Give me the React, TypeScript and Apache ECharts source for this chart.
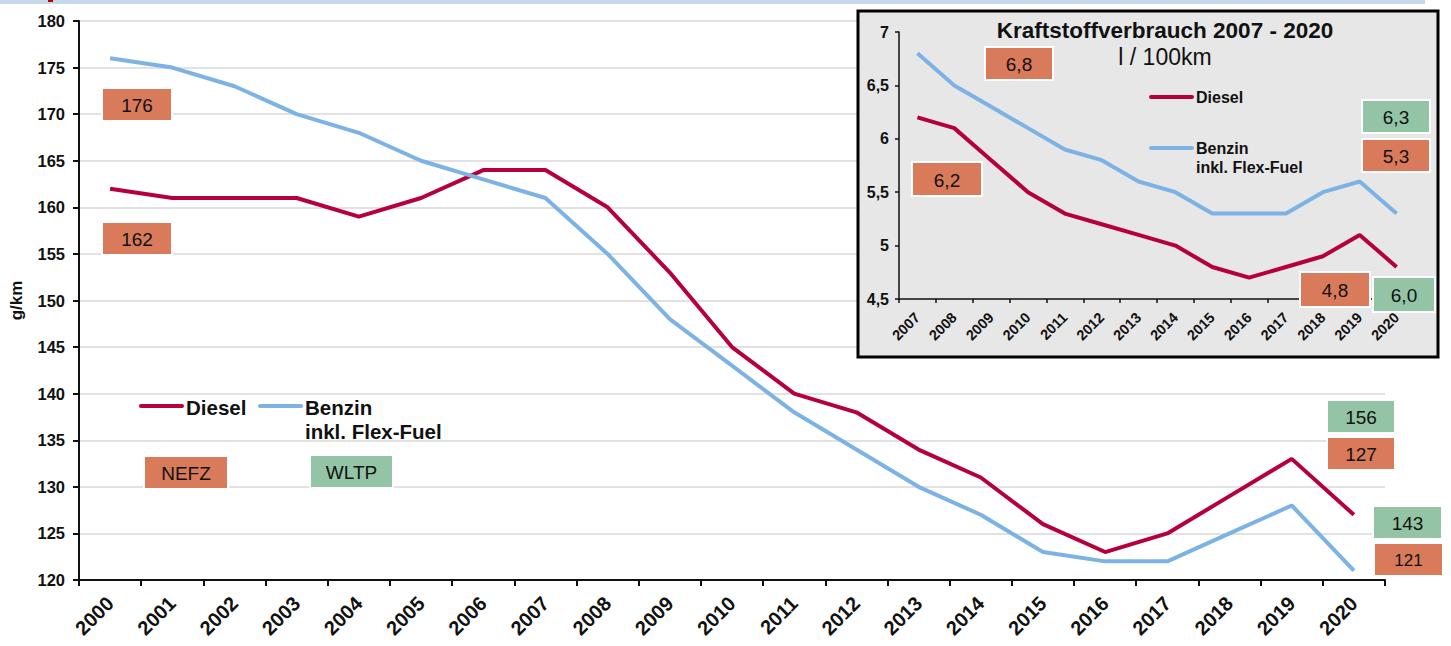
import React, { useEffect, useRef } from "react";
import * as echarts from "echarts";

const years = ["2000","2001","2002","2003","2004","2005","2006","2007","2008","2009","2010","2011","2012","2013","2014","2015","2016","2017","2018","2019","2020"];
const dieselCO2 = [162,161,161,161,159,161,164,164,160,153,145,140,138,134,131,126,123,125,129,133,127];
const benzinCO2 = [176,175,173,170,168,165,163,161,155,148,143,138,134,130,127,123,122,122,125,128,121];

const insetYears = ["2007","2008","2009","2010","2011","2012","2013","2014","2015","2016","2017","2018","2019","2020"];
const dieselL = [6.2,6.1,5.8,5.5,5.3,5.2,5.1,5.0,4.8,4.7,4.8,4.9,5.1,4.8];
const benzinL = [6.8,6.5,6.3,6.1,5.9,5.8,5.6,5.5,5.3,5.3,5.3,5.5,5.6,5.3];

const mainNefzTexts = ["176","162","127","121"];
const mainWltpTexts = ["156","143"];
const insetNefzTexts = ["6,8","6,2","5,3","4,8"];
const insetWltpTexts = ["6,3","6,0"];
const cycleTexts = ["NEFZ","WLTP"];

const DIESEL = "#b5003b";
const BENZIN = "#7db3e4";
const ORANGE = "#d97a5b";
const GREEN = "#93c4a5";
const FONT = "Liberation Sans, Arial, sans-serif";

function box(x: number, y: number, w: number, h: number, fill: string, text: string, fs = 19): any {
  return {
    type: "group",
    z: 50,
    children: [
      { type: "rect", z: 50, shape: { x, y, width: w, height: h }, style: { fill, stroke: "#ffffff", lineWidth: 2 } },
      { type: "text", z: 51, style: { x: x + w / 2, y: y + h / 2 + 1, text, fill: "#111111", font: `${fs}px ${FONT}`, align: "center", verticalAlign: "middle" } },
    ],
  };
}

export default function App() {
  const ref = useRef<HTMLDivElement>(null);
  useEffect(() => {
    document.body.style.margin = "0";
    const chart = echarts.init(ref.current!, null, { renderer: "svg" });
    const boldLbl = (fs: number) => ({ fontFamily: FONT, fontWeight: "bold" as const, fontSize: fs, color: "#111111" });
    const option: any = {
      animation: false,
      backgroundColor: "#ffffff",
      grid: [
        { left: 77, right: 66, top: 21, bottom: 66 },
        { left: 899, top: 32, width: 516, height: 267 },
      ],
      xAxis: [
        {
          type: "category", gridIndex: 0, data: years, boundaryGap: true,
          axisLine: { lineStyle: { color: "#111", width: 2 } },
          axisTick: { show: true, length: 6, lineStyle: { color: "#111", width: 2 } },
          axisLabel: { ...boldLbl(20), rotate: 45, margin: 20, interval: 0 },
          splitLine: { show: false },
        },
        {
          type: "category", gridIndex: 1, data: insetYears, boundaryGap: true, z: 10,
          axisLine: { lineStyle: { color: "#111", width: 1.5 } },
          axisTick: { show: true, length: 4, lineStyle: { color: "#111", width: 1.5 } },
          axisLabel: { ...boldLbl(14.5), rotate: 45, margin: 16, interval: 0 },
          splitLine: { show: false },
        },
      ],
      yAxis: [
        {
          type: "value", gridIndex: 0, min: 120, max: 180, interval: 5,
          name: "g/km", nameLocation: "middle", nameGap: 54, nameRotate: 90,
          nameTextStyle: boldLbl(17),
          axisLine: { show: true, lineStyle: { color: "#111", width: 2 } },
          axisTick: { show: true, length: 6, lineStyle: { color: "#111", width: 2 } },
          axisLabel: { ...boldLbl(16.5), margin: 14 },
          splitLine: { show: true, lineStyle: { color: "#d9d9d9", width: 1.5 } },
        },
        {
          type: "value", gridIndex: 1, min: 4.5, max: 7, interval: 0.5, z: 10,
          axisLine: { show: true, lineStyle: { color: "#111", width: 1.5 } },
          axisTick: { show: true, length: 4, lineStyle: { color: "#111", width: 1.5 } },
          axisLabel: { ...boldLbl(16), margin: 10, formatter: (v: number) => String(v).replace(".", ",") },
          splitLine: { show: false },
        },
      ],
      series: [
        { name: "Diesel", type: "line", xAxisIndex: 0, yAxisIndex: 0, data: dieselCO2, symbol: "none", lineStyle: { color: DIESEL, width: 4 }, itemStyle: { color: DIESEL }, z: 3 },
        { name: "Benzin inkl. Flex-Fuel", type: "line", xAxisIndex: 0, yAxisIndex: 0, data: benzinCO2, symbol: "none", lineStyle: { color: BENZIN, width: 4 }, itemStyle: { color: BENZIN }, z: 3 },
        { name: "Diesel (l/100km)", type: "line", xAxisIndex: 1, yAxisIndex: 1, data: dieselL, symbol: "none", lineStyle: { color: DIESEL, width: 4 }, itemStyle: { color: DIESEL }, z: 12 },
        { name: "Benzin (l/100km)", type: "line", xAxisIndex: 1, yAxisIndex: 1, data: benzinL, symbol: "none", lineStyle: { color: BENZIN, width: 4 }, itemStyle: { color: BENZIN }, z: 12 },
      ],
      graphic: [
        { type: "rect", z: 1, shape: { x: 0, y: 0, width: 1425, height: 4 }, style: { fill: "#c6d7ec" } },
        { type: "rect", z: 2, shape: { x: 48, y: 0, width: 5, height: 2 }, style: { fill: "#c00000" } },
        { type: "rect", z: 5, shape: { x: 858, y: 11, width: 580, height: 346 }, style: { fill: "#e7e7e7", stroke: "#000000", lineWidth: 3 } },
        { type: "text", z: 20, style: { x: 1165, y: 30, text: "Kraftstoffverbrauch 2007 - 2020", font: `bold 22.5px ${FONT}`, fill: "#111", align: "center", verticalAlign: "middle" } },
        { type: "text", z: 20, style: { x: 1165, y: 57, text: "l / 100km", font: `23px ${FONT}`, fill: "#111", align: "center", verticalAlign: "middle" } },
        // inset legend
        { type: "line", z: 20, shape: { x1: 1151, y1: 97, x2: 1192, y2: 97 }, style: { stroke: DIESEL, lineWidth: 4, lineCap: "round" } },
        { type: "text", z: 20, style: { x: 1196, y: 97, text: "Diesel", font: `bold 16px ${FONT}`, fill: "#111", verticalAlign: "middle" } },
        { type: "line", z: 20, shape: { x1: 1151, y1: 148, x2: 1192, y2: 148 }, style: { stroke: BENZIN, lineWidth: 4, lineCap: "round" } },
        { type: "text", z: 20, style: { x: 1196, y: 148, text: "Benzin", font: `bold 16px ${FONT}`, fill: "#111", verticalAlign: "middle" } },
        { type: "text", z: 20, style: { x: 1196, y: 167, text: "inkl. Flex-Fuel", font: `bold 16px ${FONT}`, fill: "#111", verticalAlign: "middle" } },
        // main legend
        { type: "line", z: 20, shape: { x1: 141, y1: 406, x2: 182, y2: 406 }, style: { stroke: DIESEL, lineWidth: 4, lineCap: "round" } },
        { type: "text", z: 20, style: { x: 186, y: 407, text: "Diesel", font: `bold 20.5px ${FONT}`, fill: "#111", verticalAlign: "middle" } },
        { type: "line", z: 20, shape: { x1: 260, y1: 406, x2: 301, y2: 406 }, style: { stroke: BENZIN, lineWidth: 4, lineCap: "round" } },
        { type: "text", z: 20, style: { x: 305, y: 407, text: "Benzin", font: `bold 20.5px ${FONT}`, fill: "#111", verticalAlign: "middle" } },
        { type: "text", z: 20, style: { x: 305, y: 431, text: "inkl. Flex-Fuel", font: `bold 20.5px ${FONT}`, fill: "#111", verticalAlign: "middle" } },
        // main boxes
        box(102, 88, 70, 33, ORANGE, mainNefzTexts[0]),
        box(102, 222, 70, 33, ORANGE, mainNefzTexts[1]),
        box(1327, 437, 68, 33, ORANGE, mainNefzTexts[2]),
        box(1374, 543, 69, 33, ORANGE, mainNefzTexts[3], 17),
        box(1327, 400, 68, 33, GREEN, mainWltpTexts[0]),
        box(1373, 506, 69, 33, GREEN, mainWltpTexts[1]),
        box(144, 456, 84, 33, ORANGE, cycleTexts[0]),
        box(310, 455, 83, 33, GREEN, cycleTexts[1]),
        // inset boxes
        box(985, 47, 68, 33, ORANGE, insetNefzTexts[0]),
        box(912, 162, 70, 34, ORANGE, insetNefzTexts[1]),
        box(1362, 139, 68, 33, ORANGE, insetNefzTexts[2]),
        box(1300, 272, 70, 35, ORANGE, insetNefzTexts[3]),
        box(1362, 100, 68, 33, GREEN, insetWltpTexts[0]),
        box(1373, 277, 62, 35, GREEN, insetWltpTexts[1]),
      ],
    };
    chart.setOption(option);
    return () => chart.dispose();
  }, []);
  return <div ref={ref} style={{ width: 1451, height: 646 }} />;
}
